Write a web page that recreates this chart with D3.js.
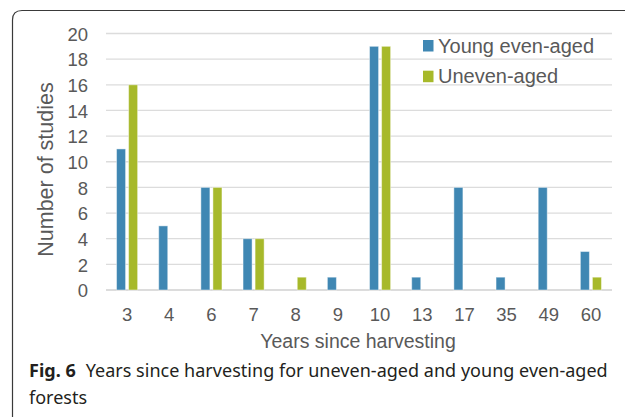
<!DOCTYPE html>
<html>
<head>
<meta charset="utf-8">
<script src="https://cdn.jsdelivr.net/npm/d3@7"></script>
<style>
    body { margin: 0; background: #fff; }
    svg { display: block; }
    .tick text { fill: #595959; }
</style>
</head>
<body>
<svg id="chart" width="625" height="417"></svg>
<script>
const YEARS = ['3', '4', '6', '7', '8', '9', '10', '13', '17', '35', '49', '60'];
const SERIES = ['Young even-aged', 'Uneven-aged'];
const YOUNG_EVEN_AGED = [11, 5, 8, 4, 0, 1, 19, 1, 8, 1, 8, 3];
const UNEVEN_AGED = [16, 0, 8, 4, 1, 0, 19, 0, 0, 0, 0, 1];
const Y_TICKS = [0, 2, 4, 6, 8, 10, 12, 14, 16, 18, 20];

const COLOURS = ['#3f87b3', '#a7b92a'];
const TEXT_COLOUR = '#595959';
const FONT = '"Liberation Sans", Arial, sans-serif';

const svg = d3.select('#chart');

const plotLeft = 106;
const plotRight = 612;
const plotTop = 33.5;
const plotBottom = 290;

// frame around the figure (top and left edges only, rounded corner)
svg.append('path')
    .attr('d', 'M12.5,417 L12.5,20 Q12.5,10.5 22,10.5 L625,10.5')
    .attr('fill', 'none')
    .attr('stroke', '#3a3a3a')
    .attr('stroke-width', 1.2);

const x = d3.scaleBand()
    .domain(YEARS)
    .range([plotLeft, plotRight])
    .paddingInner(0.5)
    .paddingOuter(0.25);

const xSeries = d3.scaleBand()
    .domain(SERIES)
    .range([0, x.bandwidth()])
    .paddingInner(0.25);

const y = d3.scaleLinear()
    .domain([0, 20])
    .range([plotBottom, plotTop]);

// gridlines
svg.append('g')
    .selectAll('line')
    .data(Y_TICKS)
    .join('line')
    .attr('x1', plotLeft)
    .attr('x2', plotRight)
    .attr('y1', d => y(d))
    .attr('y2', d => y(d))
    .attr('stroke', d => d === 0 ? '#d0d0d0' : '#dcdcdc')
    .attr('stroke-width', 1.3);

// y axis labels
const yAxis = svg.append('g')
    .attr('transform', `translate(${plotLeft - 18},0)`)
    .call(d3.axisLeft(y).tickValues(Y_TICKS).tickSize(0).tickPadding(0));
yAxis.select('.domain').remove();
yAxis.selectAll('text')
    .attr('font-family', FONT)
    .attr('font-size', 18.5)
    .attr('dy', '0.36em');

// x axis labels
const xAxis = svg.append('g')
    .attr('transform', `translate(0,${plotBottom})`)
    .call(d3.axisBottom(x).tickSize(0).tickPadding(0));
xAxis.select('.domain').remove();
xAxis.selectAll('text')
    .attr('font-family', FONT)
    .attr('font-size', 18.5)
    .attr('y', 30.5)
    .attr('dy', 0);

// bars
const groups = svg.append('g')
    .selectAll('g')
    .data(YEARS.map((year, i) => ({ year, values: [YOUNG_EVEN_AGED[i], UNEVEN_AGED[i]] })))
    .join('g')
    .attr('transform', d => `translate(${x(d.year)},0)`);

groups.selectAll('rect')
    .data(d => d.values.map((value, i) => ({ series: SERIES[i], value, i })).filter(d => d.value > 0))
    .join('rect')
    .attr('x', d => xSeries(d.series))
    .attr('width', xSeries.bandwidth())
    .attr('y', d => y(d.value))
    .attr('height', d => y(0) - y(d.value))
    .attr('fill', d => COLOURS[d.i])
    .attr('stroke', 'rgba(255,255,255,0.45)')
    .attr('stroke-width', 1);

// axis titles
svg.append('text')
    .attr('x', 358)
    .attr('y', 348)
    .attr('text-anchor', 'middle')
    .attr('font-family', FONT)
    .attr('font-size', 19.5)
    .attr('fill', TEXT_COLOUR)
    .text('Years since harvesting');

svg.append('text')
    .attr('transform', 'translate(53,169.5) rotate(-90)')
    .attr('text-anchor', 'middle')
    .attr('font-family', FONT)
    .attr('font-size', 21.5)
    .attr('fill', TEXT_COLOUR)
    .text('Number of studies');

// legend
const legend = svg.append('g')
    .selectAll('g')
    .data(SERIES)
    .join('g')
    .attr('transform', (d, i) => `translate(423,${40 + i * 30.7})`);

legend.append('rect')
    .attr('width', 10.5)
    .attr('height', 11.5)
    .attr('fill', (d, i) => COLOURS[i]);

legend.append('text')
    .attr('x', 15)
    .attr('y', 12.7)
    .attr('font-family', FONT)
    .attr('font-size', 20)
    .attr('fill', TEXT_COLOUR)
    .text(d => d);

// caption
const caption = svg.append('text')
    .attr('x', 29)
    .attr('y', 377)
    .attr('font-family', '"Noto Sans", "Open Sans", sans-serif')
    .attr('font-size', 18)
    .attr('fill', '#231f20');
caption.append('tspan')
    .attr('font-weight', 'bold')
    .text('Fig. 6');
caption.append('tspan')
    .attr('dx', 10)
    .attr('textLength', 522)
    .attr('lengthAdjust', 'spacing')
    .text('Years since harvesting for uneven-aged and young even-aged');
caption.append('tspan')
    .attr('x', 29)
    .attr('y', 404)
    .text('forests');
</script>
</body>
</html>
